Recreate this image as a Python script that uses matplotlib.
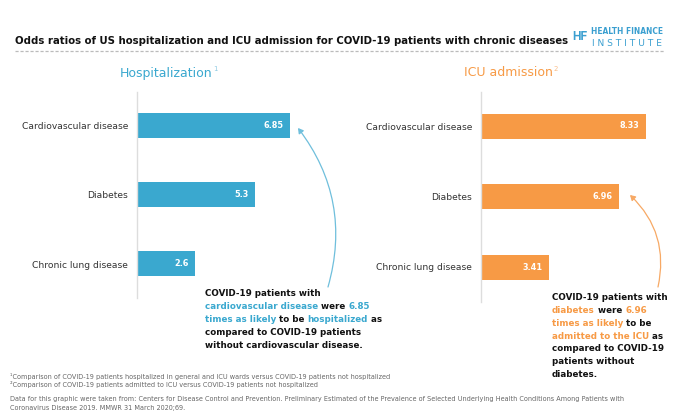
import matplotlib
matplotlib.use("Agg")
import matplotlib.pyplot as plt

categories = ["Cardiovascular disease", "Diabetes", "Chronic lung disease"]
hosp_values = [6.85, 5.3, 2.6]
icu_values = [8.33, 6.96, 3.41]
hosp_labels = ["6.85", "5.3", "2.6"]
icu_labels = ["8.33", "6.96", "3.41"]

title = "Odds ratios of US hospitalization and ICU admission for COVID-19 patients with chronic diseases"
footnotes = [
    "\u00b9Comparison of COVID-19 patients hospitalized in general and ICU wards versus COVID-19 patients not hospitalized",
    "\u00b2Comparison of COVID-19 patients admitted to ICU versus COVID-19 patients not hospitalized",
    "Data for this graphic were taken from: Centers for Disease Control and Prevention. Preliminary Estimated of the Prevalence of Selected Underlying Health Conditions Among Patients with",
    "Coronavirus Disease 2019. MMWR 31 March 2020;69.",
]

BLUE = "#3aa8cf"
ORANGE = "#f79a45"
DARK = "#111111"
W, H = 680, 418

plt.rcParams['font.family'] = ['DejaVu Sans']
fig = plt.figure(figsize=(6.8, 4.18), dpi=100)
fig.patch.set_facecolor("white")
R = fig.canvas.get_renderer()


def width_px(s, size, weight="normal", family=None):
    kw = {"family": family} if family else {}
    t = fig.text(0, 0, s, fontsize=size, fontweight=weight, **kw)
    w = t.get_window_extent(renderer=R).width
    t.remove()
    return w


def fit(s, target, weight="normal", family=None):
    return 10 * target / width_px(s, 10, weight, family)


def ftext(x, y, s, **kw):
    return fig.text(x / W, 1 - y / H, s, **kw)


def rich_line(x, y, segs, size, weight="bold"):
    prefix = ""
    for txt, col in segs:
        off = width_px(prefix + "X", size, weight) - width_px("X", size, weight) if prefix else 0
        ftext(x + off, y, txt, color=col, fontsize=size, fontweight=weight, va="center")
        prefix += txt


def px_axes(left, top, width, height):
    return fig.add_axes([left / W, 1 - (top + height) / H, width / W, height / H])


# Title and separator
ts = fit(title, 552, "bold")
ftext(15, 41, title, fontsize=ts, fontweight="bold", va="center", color=DARK)
fig.add_artist(plt.Line2D([15 / W, 665 / W], [1 - 51 / H] * 2, color="#bbbbbb",
                          lw=0.9, ls=(0, (2.5, 1.5))))

# Logo
hf_size = fit("HF", 15, "bold", ["Roboto", "DejaVu Sans"])
ftext(572, 36, "HF", fontsize=hf_size, fontweight="bold", color="#3a9fd0", va="center",
      family=["Roboto", "DejaVu Sans"])
ftext(591, 31, "HEALTH FINANCE", fontsize=fit("HEALTH FINANCE", 72, "bold"),
      fontweight="bold", color="#3a9fd0", va="center")
ftext(592, 43, " ".join("INSTITUTE"), fontsize=fit(" ".join("INSTITUTE"), 70),
      color="#3a9fd0", va="center")

# Panel titles
hs = fit("Hospitalization", 93)
ftext(120, 73, "Hospitalization", fontsize=hs, color=BLUE, va="center")
ftext(120 + width_px("Hospitalization", hs) + 1, 69, "1", fontsize=hs * 0.55, color="#8fcbe3", va="center")
ftext(464, 73, "ICU admission", fontsize=hs, color=ORANGE, va="center")
ftext(464 + width_px("ICU admission", hs) + 1, 69, "2", fontsize=hs * 0.55, color="#f9bd89", va="center")

cat_size = fit("Cardiovascular disease", 106)
val_size = fit("6.85", 20, "bold")


def panel(ax, values, labels, color, spacing, bar_px):
    ax.set_facecolor("none")
    ypos = list(range(len(values)))
    ax.barh(ypos, values, height=bar_px / spacing, color=color)
    for i, (v, lab) in enumerate(zip(values, labels)):
        ax.annotate(lab, (v, i), xytext=(-4.5, 0), textcoords="offset points",
                    ha="right", va="center", color="white", fontweight="bold",
                    fontsize=val_size)
    ax.set_yticks(ypos)
    ax.set_yticklabels(categories)
    ax.tick_params(axis="y", length=0, pad=6.5, labelsize=cat_size, labelcolor="#333333")
    ax.set_xticks([])
    for s in ["top", "right", "bottom"]:
        ax.spines[s].set_visible(False)
    ax.spines["left"].set_color("#dddddd")
    ax.spines["left"].set_linewidth(1.0)


# Left panel
axL = px_axes(137, 92, 160, 206)
panel(axL, hosp_values, hosp_labels, BLUE, 69.25, 25)
axL.set_xlim(0, 160 / 22.3)
axL.set_ylim((298 - 125.5) / 69.25, -(125.5 - 92) / 69.25)

# Right panel
axR = px_axes(481, 92, 185, 210)
panel(axR, icu_values, icu_labels, ORANGE, 70.5, 25)
axR.set_xlim(0, 185 / 19.8)
axR.set_ylim((302 - 126) / 70.5, -(126 - 92) / 70.5)

# Arrows
fig.add_artist(matplotlib.patches.FancyArrowPatch(
    (328, H - 287), (298, H - 128), transform=None,
    connectionstyle="arc3,rad=0.25", arrowstyle="-|>,head_length=3,head_width=1.8",
    color="#6fbfdc", lw=0.9, shrinkA=0, shrinkB=0))
fig.add_artist(matplotlib.patches.FancyArrowPatch(
    (658, H - 287), (630, H - 195), transform=None,
    connectionstyle="arc3,rad=0.28", arrowstyle="-|>,head_length=3,head_width=1.8",
    color="#f7a965", lw=0.9, shrinkA=0, shrinkB=0))

# Annotation texts
asz = fit("COVID-19 patients with", 115, "bold")
left_lines = [
    [("COVID-19 patients with", DARK)],
    [("cardiovascular disease", BLUE), (" were ", DARK), ("6.85", BLUE)],
    [("times as likely", BLUE), (" to be ", DARK), ("hospitalized", BLUE), (" as", DARK)],
    [("compared to COVID-19 patients", DARK)],
    [("without cardiovascular disease.", DARK)],
]
for k, segs in enumerate(left_lines):
    rich_line(205, 294 + k * 12.8, segs, asz)

right_lines = [
    [("COVID-19 patients with", DARK)],
    [("diabetes", ORANGE), (" were ", DARK), ("6.96", ORANGE)],
    [("times as likely", ORANGE), (" to be", DARK)],
    [("admitted to the ICU", ORANGE), (" as", DARK)],
    [("compared to COVID-19", DARK)],
    [("patients without", DARK)],
    [("diabetes.", DARK)],
]
for k, segs in enumerate(right_lines):
    rich_line(552, 298 + k * 12.7, segs, asz)

# Footnotes
fs = fit(footnotes[0], 380)
for s, y in zip(footnotes, [376, 384, 399, 408]):
    ftext(10, y, s, fontsize=fs, color="#666666", va="center")

fig.savefig("out.png", dpi=100, facecolor="white")
